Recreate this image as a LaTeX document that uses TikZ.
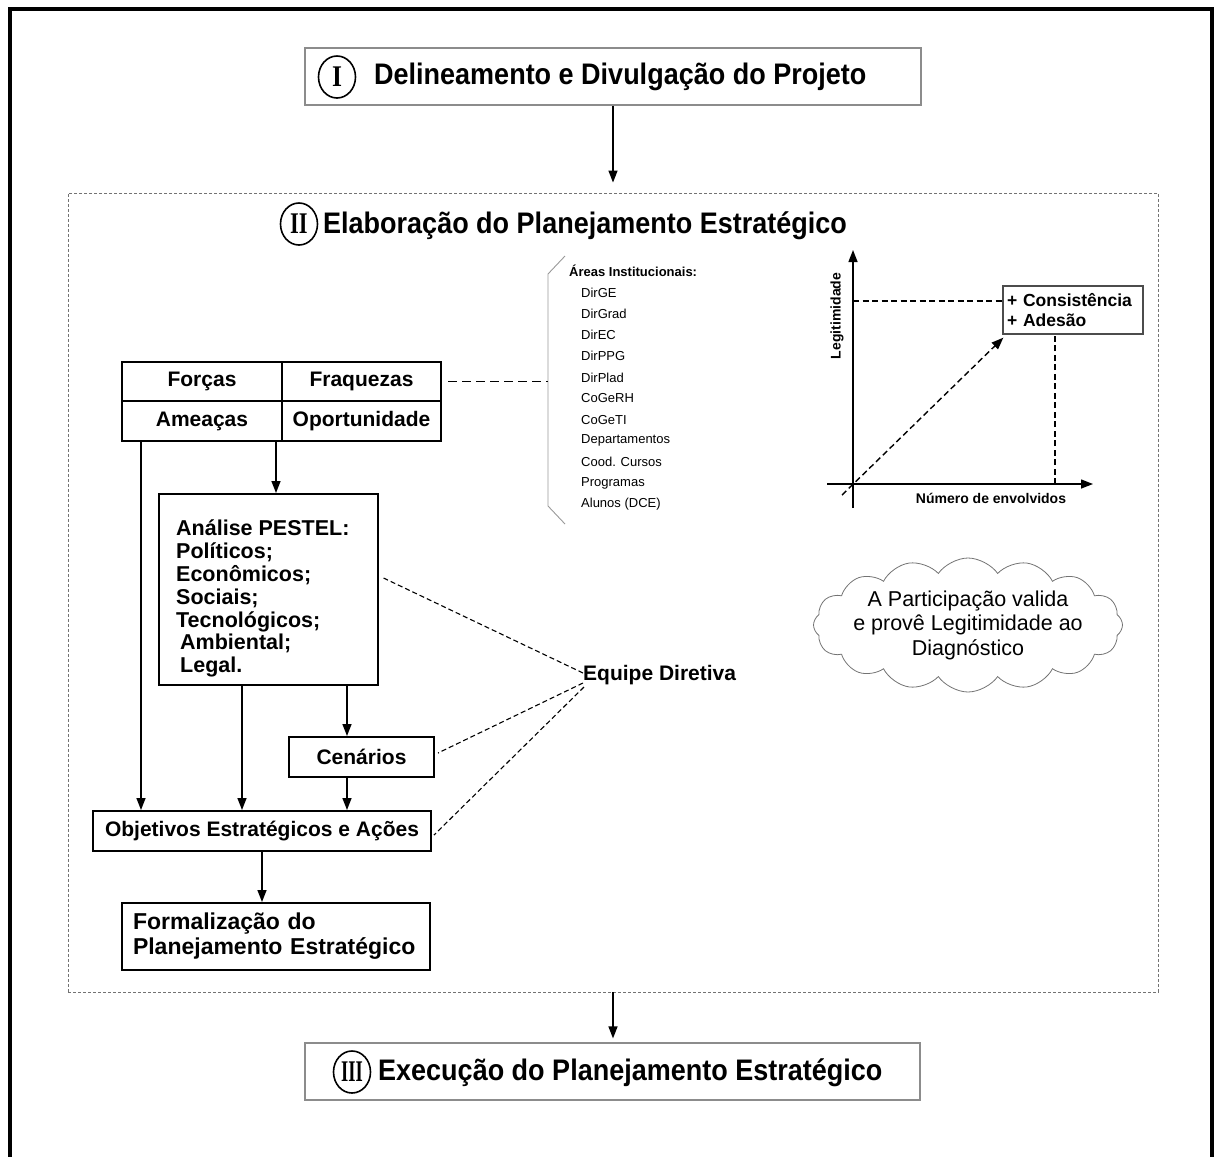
\documentclass[tikz,border=0pt]{standalone}
\usepackage{graphicx}
\usepackage{fontspec}
\setmainfont{Liberation Sans}
\newfontfamily\romanfont{Liberation Serif}
\usetikzlibrary{arrows.meta,shapes.symbols,shapes.geometric,calc}
\newcommand\myfs[1]{\fontsize{#1}{#1}\selectfont}
\newcommand\hdtxt[1]{\scalebox{1}[1.1]{#1}}
\tikzset{
  arr/.style={-{Triangle[length=12pt,width=9pt]}, line width=1.4pt},
  grayb/.style={draw=black!45, line width=1.2pt, inner sep=0},
  rcirc/.style={draw, ellipse, line width=1.6pt, minimum width=37, minimum height=42, inner sep=0, font=\romanfont\bfseries\myfs{30}},
  head/.style={font=\bfseries\myfs{27}, inner sep=0},
  blk/.style={draw, line width=2pt, inner sep=0, font=\bfseries\myfs{21}},
  item/.style={font=\myfs{13}, inner sep=0, anchor=west},
  dlong/.style={dash pattern=on 9pt off 5pt, line width=1.6pt},
  dthin/.style={dash pattern=on 5pt off 3pt, line width=1.1pt},
  dgraph/.style={dash pattern=on 6pt off 3.5pt, line width=1.4pt},
}
\begin{document}
\begin{tikzpicture}[x=1pt,y=-1pt]
\useasboundingbox (0,0) rectangle (1216,1157);
% outer frame
\draw[line width=4pt] (10,1170) -- (10,9) -- (1212,9) -- (1212,1170);

% Stage I
\node[grayb, minimum width=616, minimum height=57] (b1) at (613,76.5) {};
\node[rcirc] (r1) at (337,77) {\scalebox{0.85}[1]{I}};
\node[head, anchor=west] (t1) at (374,77) {\hdtxt{Delineamento e Divulgação do Projeto}};

% Stage II dashed box
\node[draw=black!55, dash pattern=on 3pt off 2pt, line width=0.9pt, minimum width=1090, minimum height=799, inner sep=0] (b2) at (613,592.5) {};
\draw[arr, shorten >=10pt] (b1.south) -- (b2.north);
\node[rcirc] (r2) at (299,224) {\scalebox{0.75}[1]{II}};
\node[head, anchor=west] (t2) at (323,226) {\hdtxt{Elaboração do Planejamento Estratégico}};

% SWOT table
\tikzset{cell/.style={blk, minimum width=160, minimum height=39.5}}
\node[cell] (forcas) at (202,381.5) {Forças};
\node[cell, minimum width=159] (fraq) at (361.5,381.5) {Fraquezas};
\node[cell] (ameacas) at (202,421) {Ameaças};
\node[cell, minimum width=159] (oport) at (361.5,421) {Oportunidade};

% Areas institucionais
\node[font=\bfseries\myfs{13}, inner sep=0, anchor=west] (areas) at (569,271) {Áreas Institucionais:};
\foreach \t [count=\i from 0] in {DirGE,DirGrad,DirEC,DirPPG,DirPlad,CoGeRH,CoGeTI,Departamentos,Cood. Cursos,Programas,Alunos (DCE)}
  \node[item] (it\i) at (581,{293+21.1*\i}) {\t};
\draw[black!40, line width=0.9pt] (565,256) -- (548,274) -- (548,506) -- (565,524);
\coordinate (br) at (548,381.5);
\draw[dlong] ([xshift=6pt]fraq.east) -- (br);

% PESTEL
\node[draw, line width=2pt, minimum width=219, minimum height=191, inner sep=0] (pestel) at (268,589.5) {};
\node[anchor=north west, align=left, inner sep=0, font=\bfseries\fontsize{21.5}{22.8}\selectfont] (ptxt) at (176,520)
  {Análise PESTEL:\\Políticos;\\Econômicos;\\Sociais;\\Tecnológicos;\\\hspace{4pt}Ambiental;\\\hspace{4pt}Legal.};
\coordinate (a1) at ([xshift=-7pt]ameacas.south east);
\draw[arr] (a1) -- (a1 |- pestel.north);

% Cenarios, Objetivos, Formalizacao
\node[blk, minimum width=145, minimum height=40] (cen) at (361.5,757) {Cenários};
\node[blk, minimum width=338, minimum height=40] (obj) at (262,831) {Objetivos Estratégicos e Ações};
\node[blk, minimum width=308, minimum height=67, text width=286, align=left, font=\bfseries\fontsize{23}{25}\selectfont] (form) at (276,936.5) {Formalização do\\Planejamento Estratégico};

\coordinate (sl) at ([xshift=20pt]ameacas.south west);
\coordinate (p1) at ([xshift=-26pt]pestel.south);
\coordinate (p2) at ([xshift=79pt]pestel.south);
\draw[arr] (sl) -- (sl |- obj.north);
\draw[arr] (p1) -- (p1 |- obj.north);
\draw[arr] (p2) -- (p2 |- cen.north);
\draw[arr] (p2 |- cen.south) -- (p2 |- obj.north);
\draw[arr] (obj.south) -- (obj.south |- form.north);

% Equipe Diretiva
\node[font=\bfseries\myfs{21}, anchor=west, inner sep=0] (eq) at (583,675) {Equipe Diretiva};
\draw[dthin] ([yshift=2pt]eq.west) -- ([xshift=5pt,yshift=11.5pt]pestel.east);
\draw[dthin] ([yshift=-8pt]eq.west) -- ([xshift=3pt,yshift=4pt]cen.east);
\draw[dthin] ([xshift=1pt,yshift=-12pt]eq.west) -- ([xshift=2pt,yshift=-4pt]obj.east);

% Graph
\coordinate (yb) at (853,508);
\coordinate (yt) at (853,250);
\coordinate (xl) at (827,484);
\coordinate (xr) at (1093,484);
\draw[arr] (yb) -- (yt);
\draw[arr] (xl) -- (xr);
\node[rotate=90, font=\bfseries\myfs{14}, inner sep=0] (leg) at (837,316) {Legitimidade};
\node[font=\bfseries\myfs{14}, inner sep=0] (num) at (991,498) {Número de envolvidos};
\node[draw=black!70, line width=1.3pt, minimum width=140, minimum height=48, text width=132, align=left, inner sep=0, font=\bfseries\fontsize{17.5}{20}\selectfont] (cons) at (1073,310) {+ Consistência\\+ Adesão};
\coordinate (hl) at (853,301);
\coordinate (vl) at (1055,484);
\coordinate (ds) at (842,495);
\draw[dgraph] (hl) -- (hl -| cons.west);
\draw[dgraph] (vl) -- (vl |- cons.south);
\draw[dgraph, -{Triangle[length=12pt,width=9pt]}] (ds) -- ([xshift=1pt,yshift=-3pt]cons.south west);

% Cloud
\node[cloud, cloud puffs=16, cloud puff arc=110, aspect=2.3, draw=black!55, line width=0.8pt, minimum width=309, minimum height=134, inner sep=0] (cloud) at (968,625) {};
\node[align=center, inner sep=0, font=\fontsize{21.5}{24.5}\selectfont] (ctxt) at (cloud.center) {A Participação valida\\e provê Legitimidade ao\\Diagnóstico};

% Stage III
\node[grayb, minimum width=615, minimum height=57] (b3) at (612.5,1071.5) {};
\draw[arr, shorten >=4pt] (b2.south) -- (b2.south |- b3.north);
\node[rcirc] (r3) at (352,1072) {\scalebox{0.62}[1]{III}};
\node[head, anchor=west] (t3) at (378,1073) {\hdtxt{Execução do Planejamento Estratégico}};
\end{tikzpicture}
\end{document}
